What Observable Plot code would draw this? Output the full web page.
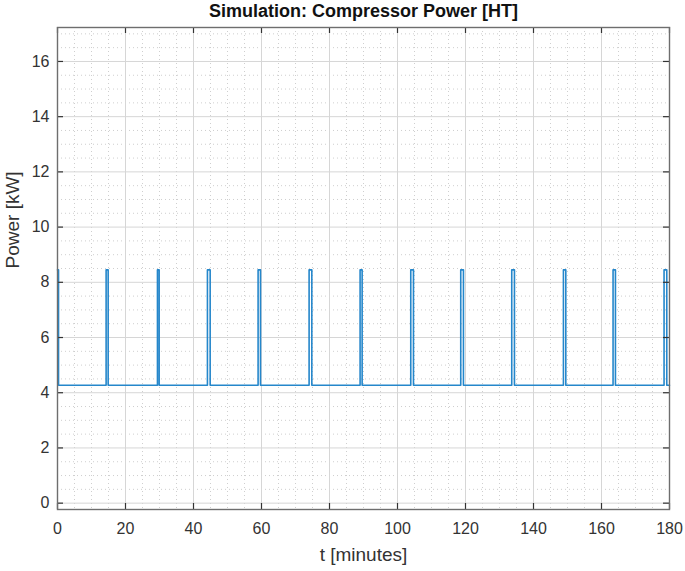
<!DOCTYPE html>
<html>
<head>
<meta charset="utf-8">
<script src="https://cdn.jsdelivr.net/npm/d3@7"></script>
<script src="https://cdn.jsdelivr.net/npm/@observablehq/plot@0.6"></script>
<style>
  html, body { margin: 0; padding: 0; background: #ffffff; }
  #chart svg { display: block; }
</style>
</head>
<body>
<div id="chart"></div>
<script>
// ---- data ----
const spikeOn  = [0, 14.3, 29.4, 44.1, 59.0, 74.0, 89.0, 103.9, 118.6, 133.6, 148.8, 163.4, 178.4];
const spikeOff = [0.3, 14.9, 29.9, 44.9, 59.7, 74.8, 89.6, 104.7, 119.4, 134.4, 149.5, 164.1, 179.2];
const basePower = 4.27;   // kW
const peakPower = 8.45;   // kW
const tEnd = 180;
const xTicks = [0, 20, 40, 60, 80, 100, 120, 140, 160, 180];
const yTicks = [0, 2, 4, 6, 8, 10, 12, 14, 16];
const xMinor = [5,10,15,25,30,35,45,50,55,65,70,75,85,90,95,105,110,115,125,130,135,145,150,155,165,170,175];
const yMinor = [0.5,1,1.5,2.5,3,3.5,4.5,5,5.5,6.5,7,7.5,8.5,9,9.5,10.5,11,11.5,12.5,13,13.5,14.5,15,15.5,16.5,17];
const xDomain = [0, 180];
const yDomain = [-0.23, 17.23];

// ---- build the step series from the spike windows ----
const series = [];
spikeOn.forEach((on, i) => {
  const off = spikeOff[i];
  if (on === 0) {
    series.push({t: 0, p: peakPower});
  } else {
    series.push({t: on, p: basePower});
    series.push({t: on, p: peakPower});
  }
  series.push({t: off, p: peakPower});
  series.push({t: off, p: basePower});
});
series.push({t: tEnd, p: basePower});

const W = 685, H = 571;
const mL = 57, mR = 16, mT = 27, mB = 62;
const ySpan = yDomain[1] - yDomain[0];
const pxPerY = (H - mT - mB) / ySpan;
const pxPerX = (W - mL - mR) / (xDomain[1] - xDomain[0]);
const tickLenY = 6 / pxPerY;   // tick length in y units
const tickLenX = 6 / pxPerX;   // tick length in x units

const font = "'Liberation Sans', Arial, Helvetica, sans-serif";
const axisColor = "#333333";

const chart = Plot.plot({
  width: W,
  height: H,
  marginLeft: mL,
  marginRight: mR,
  marginTop: mT,
  marginBottom: mB,
  style: {fontFamily: font, background: "#ffffff", color: axisColor, overflow: "visible"},
  x: {domain: xDomain, ticks: xTicks, label: null},
  y: {domain: yDomain, ticks: yTicks, label: null},
  marks: [
    Plot.frame({fill: "#ffffff", stroke: null}),
    // minor grid (dotted)
    Plot.ruleX(xMinor, {stroke: "#a0a0a0", strokeOpacity: 0.5, strokeDasharray: "1,3", strokeWidth: 1}),
    Plot.ruleY(yMinor, {stroke: "#a0a0a0", strokeOpacity: 0.5, strokeDasharray: "1,3", strokeWidth: 1}),
    // major grid
    Plot.ruleX(xTicks, {stroke: "#d6d6d6", strokeWidth: 1}),
    Plot.ruleY(yTicks, {stroke: "#d6d6d6", strokeWidth: 1}),
    // data line
    Plot.line(series, {x: "t", y: "p", stroke: "#2587cb", strokeWidth: 1.6}),
    // inward ticks (bottom, top, left, right)
    Plot.ruleX(xTicks, {y1: yDomain[0], y2: yDomain[0] + tickLenY, stroke: axisColor, strokeWidth: 1.2}),
    Plot.ruleX(xTicks, {y1: yDomain[1], y2: yDomain[1] - tickLenY, stroke: axisColor, strokeWidth: 1.2}),
    Plot.ruleY(yTicks, {x1: xDomain[0], x2: xDomain[0] + tickLenX, stroke: axisColor, strokeWidth: 1.2}),
    Plot.ruleY(yTicks, {x1: xDomain[1], x2: xDomain[1] - tickLenX, stroke: axisColor, strokeWidth: 1.2}),
    // box
    Plot.frame({stroke: "#6e6e6e", strokeWidth: 1.4}),
    // tick labels
    Plot.axisX(xTicks, {tickSize: 0, tickPadding: 13, fontSize: 16, fill: axisColor, label: null}),
    Plot.axisY(yTicks, {tickSize: 0, tickPadding: 8, fontSize: 16, fill: axisColor, label: null}),
    // title & axis labels
    Plot.text(["Simulation: Compressor Power [HT]"], {frameAnchor: "top", dy: -16, fontSize: 18, fontWeight: "bold", fill: "#111", lineAnchor: "middle"}),
    Plot.text(["t [minutes]"], {frameAnchor: "bottom", dy: 45, fontSize: 19, fill: axisColor, lineAnchor: "middle"}),
    Plot.text(["Power [kW]"], {frameAnchor: "left", dx: -45, rotate: -90, fontSize: 19, fill: axisColor, lineAnchor: "middle"})
  ]
});

document.getElementById("chart").appendChild(chart);
</script>
</body>
</html>
